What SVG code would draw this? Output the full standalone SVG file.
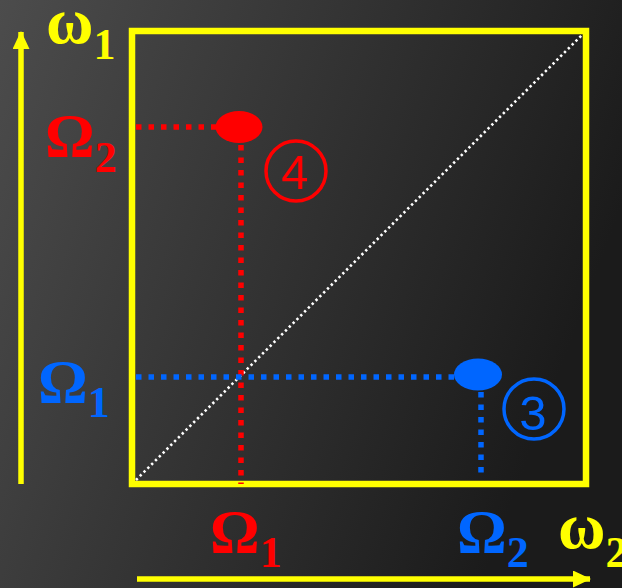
<svg xmlns="http://www.w3.org/2000/svg" width="622" height="588" viewBox="0 0 622 588">
  <defs>
    <linearGradient id="bg" x1="0" y1="0" x2="1" y2="0.35">
      <stop offset="0" stop-color="#4c4c4c"/>
      <stop offset="1" stop-color="#1b1b1b"/>
    </linearGradient>
    <marker id="head" viewBox="0 0 18 17" refX="17" refY="8.5" markerWidth="18" markerHeight="17" markerUnits="userSpaceOnUse" orient="auto">
      <path d="M0,0 L18,8.5 L0,17 Z" fill="#ffff00"/>
    </marker>
    <style>
      .axis { stroke: #ffff00; stroke-width: 5.5; fill: none; }
      .frame { stroke: #ffff00; stroke-width: 6.5; fill: none; }
      .dot { stroke-width: 5.5; stroke-dasharray: 5.5 7; fill: none; }
      .red { stroke: #ff0000; }
      .blue { stroke: #0066ff; }
      .diag { stroke: #ffffff; stroke-width: 2.6; stroke-dasharray: 2.4 3; fill: none; }
      .sym { font-family: "Liberation Serif", "Times New Roman", serif; font-weight: bold; font-size: 62px; }
      .omega { font-size: 65px; }
      .sub { font-size: 44px; }
      .num { font-family: "Liberation Sans", Arial, sans-serif; font-size: 49px; text-anchor: middle; }
      .ring { fill: none; stroke-width: 3.5; }
    </style>
  </defs>

  <rect x="0" y="0" width="622" height="588" fill="url(#bg)"/>

  <!-- axes and frame -->
  <g id="axes">
    <line class="axis" x1="21" y1="484" x2="21" y2="32" marker-end="url(#head)"/>
    <line class="axis" x1="137" y1="579" x2="590" y2="579" marker-end="url(#head)"/>
    <rect class="frame" x="132" y="31" width="454" height="453"/>
  </g>

  <!-- connectors -->
  <g id="connectors">
    <line class="diag" x1="136" y1="480" x2="583" y2="34"/>
    <line class="dot red" x1="136" y1="127" x2="218" y2="127"/>
    <line class="dot red" x1="241" y1="145" x2="241" y2="484"/>
    <line class="dot blue" x1="136" y1="377" x2="456" y2="377"/>
    <line class="dot blue" x1="481" y1="392" x2="481" y2="479"/>
  </g>

  <!-- point 4 -->
  <g id="point4">
    <ellipse cx="239" cy="127" rx="23.5" ry="16" fill="#ff0000"/>
    <circle class="ring red" cx="296" cy="171" r="30"/>
    <text class="num" x="295" y="189" fill="#ff0000">4</text>
  </g>

  <!-- point 3 -->
  <g id="point3">
    <ellipse cx="478" cy="374.5" rx="24" ry="16" fill="#0066ff"/>
    <circle class="ring blue" cx="534" cy="409" r="30"/>
    <text class="num" x="533" y="430" fill="#0066ff">3</text>
  </g>

  <!-- axis labels -->
  <g id="label-w1">
    <text class="sym omega" x="46" y="43" fill="#ffff00">ω<tspan class="sub" y="59">1</tspan></text>
  </g>
  <g id="label-w2">
    <text class="sym omega" x="558" y="548" fill="#ffff00">ω<tspan class="sub" y="567">2</tspan></text>
  </g>
  <g id="label-O2-left">
    <text class="sym" x="45" y="156" fill="#ff0000">Ω<tspan class="sub" y="172">2</tspan></text>
  </g>
  <g id="label-O1-left">
    <text class="sym" x="38" y="402" fill="#0066ff">Ω<tspan class="sub" y="417">1</tspan></text>
  </g>
  <g id="label-O1-bottom">
    <text class="sym" x="210" y="552" fill="#ff0000">Ω<tspan class="sub" y="567">1</tspan></text>
  </g>
  <g id="label-O2-bottom">
    <text class="sym" x="457" y="552" fill="#0066ff">Ω<tspan class="sub" y="567">2</tspan></text>
  </g>
</svg>
